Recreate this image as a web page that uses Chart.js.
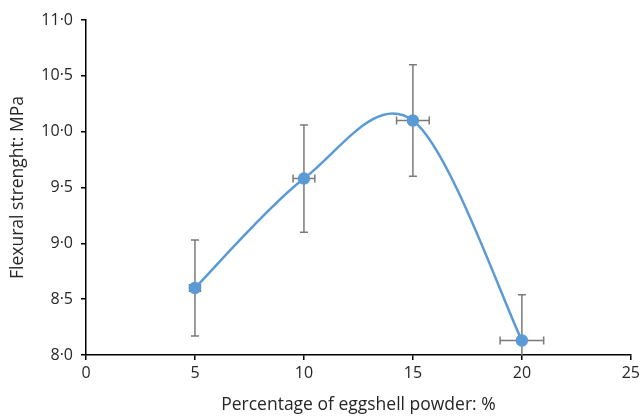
<!DOCTYPE html>
<html>
<head>
<meta charset="utf-8">
<script src="https://cdn.jsdelivr.net/npm/chart.js@4.4.1/dist/chart.umd.min.js"></script>
<style>
  html, body { margin: 0; padding: 0; background: #fff; }
  #wrap { width: 644px; height: 416px; }
</style>
</head>
<body>
<div id="wrap"><canvas id="c" width="644" height="416"></canvas></div>
<script>
// Eggshell powder content (%) and measured flexural strength (MPa)
const powder = [5, 10, 15, 20];
const strength = [8.6, 9.58, 10.1, 8.13];
// Standard deviations for strength (y) and powder content (x)
const strengthErr = [0.43, 0.48, 0.5, 0.41];
const powderErr = [0.25, 0.5, 0.75, 1.0];
// Axis tick labels
const xTickLabels = ['0', '5', '10', '15', '20', '25'];
const yTickLabels = ['8·0', '8·5', '9·0', '9·5', '10·0', '10·5', '11·0'];

const FONT = '"Open Sans", "Noto Sans", sans-serif';
const TEXT = '#262626';

// Draws horizontal and vertical error bars with caps, clipped to the plot area
const errorBars = {
  id: 'errorBars',
  beforeDatasetsDraw(chart) {
    const { ctx, chartArea, scales: { x, y } } = chart;
    ctx.save();
    ctx.beginPath();
    ctx.rect(chartArea.left, chartArea.top, chartArea.right - chartArea.left, chartArea.bottom - chartArea.top);
    ctx.clip();
    ctx.strokeStyle = '#7a7a7a';
    ctx.lineWidth = 1.5;
    const cap = 4;
    powder.forEach((px, i) => {
      const cx = x.getPixelForValue(px);
      const cy = y.getPixelForValue(strength[i]);
      const yTop = y.getPixelForValue(strength[i] + strengthErr[i]);
      const yBot = y.getPixelForValue(strength[i] - strengthErr[i]);
      const xL = x.getPixelForValue(px - powderErr[i]);
      const xR = x.getPixelForValue(px + powderErr[i]);
      ctx.beginPath();
      ctx.moveTo(cx, yTop); ctx.lineTo(cx, yBot);
      ctx.moveTo(cx - cap, yTop); ctx.lineTo(cx + cap, yTop);
      ctx.moveTo(cx - cap, yBot); ctx.lineTo(cx + cap, yBot);
      ctx.moveTo(xL, cy); ctx.lineTo(xR, cy);
      ctx.moveTo(xL, cy - cap); ctx.lineTo(xL, cy + cap);
      ctx.moveTo(xR, cy - cap); ctx.lineTo(xR, cy + cap);
      ctx.stroke();
    });
    ctx.restore();
  }
};

// Catmull-Rom style smoothing: each point's Bezier handles are set to
// one sixth of the chord between its neighbours (end points reuse themselves)
const catmullRom = {
  id: 'catmullRom',
  afterDatasetsUpdate(chart) {
    const meta = chart.getDatasetMeta(0);
    const line = meta.dataset;
    if (!line) return;
    line.updateControlPoints(chart.chartArea, 'x');
    const pts = meta.data;
    pts.forEach((p, i) => {
      const prev = pts[Math.max(i - 1, 0)];
      const next = pts[Math.min(i + 1, pts.length - 1)];
      const dx = (next.x - prev.x) / 6;
      const dy = (next.y - prev.y) / 6;
      p.cp1x = p.x - dx; p.cp1y = p.y - dy;
      p.cp2x = p.x + dx; p.cp2y = p.y + dy;
    });
  }
};

new Chart(document.getElementById('c'), {
  type: 'scatter',
  data: {
    datasets: [{
      data: powder.map((p, i) => ({ x: p, y: strength[i] })),
      showLine: true,
      tension: 0.4,
      capBezierPoints: false,
      borderColor: '#5b9bd5',
      backgroundColor: '#5b9bd5',
      borderWidth: 2.5,
      pointRadius: 5,
      pointHoverRadius: 5,
      clip: false
    }]
  },
  options: {
    responsive: false,
    animation: false,
    events: [],
    layout: { padding: { top: 20, right: 12, left: 8, bottom: 0 } },
    plugins: { legend: { display: false }, tooltip: { enabled: false } },
    scales: {
      x: {
        type: 'linear',
        min: 0, max: 25,
        afterFit(s) { s.height = 61; },
        border: { color: '#000', width: 1.5 },
        grid: { drawOnChartArea: false, tickLength: 5, color: '#000', lineWidth: 1.5 },
        ticks: {
          stepSize: 5,
          padding: 4,
          color: TEXT,
          font: { family: FONT, size: 16 },
          callback: (v, i) => xTickLabels[i]
        },
        title: {
          display: true,
          text: 'Percentage of eggshell powder: %',
          color: TEXT,
          font: { family: FONT, size: 17.5 },
          padding: { top: 3, bottom: 0 }
        }
      },
      y: {
        type: 'linear',
        min: 8, max: 11,
        afterFit(s) { s.width = 78; },
        border: { color: '#000', width: 1.5 },
        grid: { drawOnChartArea: false, tickLength: 5, color: '#000', lineWidth: 1.5 },
        ticks: {
          stepSize: 0.5,
          padding: 8,
          color: TEXT,
          font: { family: FONT, size: 16 },
          callback: (v, i) => yTickLabels[i]
        },
        title: {
          display: true,
          text: 'Flexural strenght: MPa',
          color: TEXT,
          font: { family: FONT, size: 17.5 },
          padding: { top: 0, bottom: 4 }
        }
      }
    }
  },
  plugins: [errorBars, catmullRom]
});
</script>
</body>
</html>
